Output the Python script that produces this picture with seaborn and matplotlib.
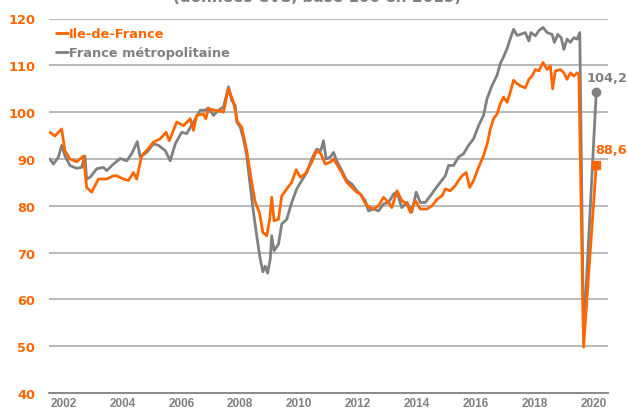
import matplotlib
matplotlib.use("Agg")
import matplotlib.pyplot as plt
import seaborn as sns
import pandas as pd

# ==============================
# DATA (year as decimal)
# ==============================

fr_years = [
    2002.03, 2002.15, 2002.32, 2002.43, 2002.54, 2002.71, 2002.94, 2003.11, 2003.22, 2003.28,
    2003.40, 2003.62, 2003.85, 2003.96, 2004.19, 2004.42, 2004.64, 2004.81, 2005.00, 2005.10,
    2005.32, 2005.55, 2005.72, 2005.95, 2006.12, 2006.29, 2006.51, 2006.68, 2006.91, 2007.14,
    2007.31, 2007.42, 2007.59, 2007.76, 2007.93, 2008.10, 2008.21, 2008.33, 2008.38, 2008.50,
    2008.61, 2008.72, 2008.84, 2008.95, 2009.06, 2009.18, 2009.27, 2009.35, 2009.43, 2009.52,
    2009.57, 2009.65, 2009.80, 2009.91, 2010.08, 2010.25, 2010.42, 2010.59, 2010.76, 2010.93,
    2011.10, 2011.24, 2011.33, 2011.42, 2011.56, 2011.67, 2011.78, 2011.95, 2012.12, 2012.30,
    2012.46, 2012.58, 2012.75, 2012.86, 2013.03, 2013.20, 2013.37, 2013.54, 2013.71, 2013.83,
    2013.99, 2014.17, 2014.33, 2014.48, 2014.62, 2014.79, 2014.96, 2015.13, 2015.30, 2015.47,
    2015.58, 2015.75, 2015.92, 2016.09, 2016.26, 2016.43, 2016.60, 2016.77, 2016.89, 2017.06,
    2017.23, 2017.34, 2017.45, 2017.57, 2017.68, 2017.79, 2017.91, 2018.02, 2018.19, 2018.31,
    2018.38, 2018.53, 2018.65, 2018.79, 2018.93, 2019.10, 2019.18, 2019.29, 2019.41, 2019.50,
    2019.61, 2019.72, 2019.84, 2019.95, 2020.04, 2020.17, 2020.60,
]
fr_values = [
    90.0, 88.9, 90.4, 92.9, 90.7, 88.6, 88.0, 88.2, 90.6, 85.7,
    86.1, 87.9, 88.2, 87.5, 88.9, 90.1, 89.6, 91.1, 93.7, 90.4,
    91.4, 93.2, 92.9, 91.8, 89.6, 93.2, 95.7, 95.4, 97.9, 100.4,
    100.4, 100.9, 99.3, 100.4, 101.1, 105.4, 102.5, 101.4, 97.9, 96.8,
    94.3, 90.7, 84.3, 78.6, 73.6, 68.6, 65.9, 67.1, 65.6, 68.6,
    73.6, 70.4, 71.8, 76.1, 77.1, 80.7, 83.6, 85.4, 87.1, 90.0,
    92.1, 91.8, 93.9, 90.0, 90.4, 91.4, 89.6, 87.5, 85.4, 84.6,
    83.2, 82.5, 81.1, 78.9, 79.3, 78.9, 80.4, 80.7, 82.5, 82.9,
    79.6, 80.7, 78.6, 82.9, 80.7, 80.7, 82.1, 83.6, 85.0, 86.4,
    88.6, 88.6, 90.4, 91.1, 92.9, 94.3, 97.1, 99.3, 102.9, 105.7,
    107.9, 110.4, 111.8, 113.6, 115.7, 117.7, 116.4, 116.6, 117.0, 115.2,
    117.0, 116.3, 117.4, 118.1, 117.0, 116.6, 114.9, 116.6, 115.9, 113.4,
    115.6, 114.9, 115.9, 115.6, 117.0, 51.9, 104.2,
]

idf_years = [
    2002.03, 2002.20, 2002.43, 2002.54, 2002.71, 2002.94, 2003.17, 2003.28, 2003.45, 2003.68,
    2003.96, 2004.19, 2004.30, 2004.53, 2004.70, 2004.87, 2004.98, 2005.15, 2005.32, 2005.55,
    2005.78, 2005.98, 2006.09, 2006.34, 2006.57, 2006.80, 2006.91, 2007.02, 2007.25, 2007.33,
    2007.42, 2007.65, 2007.93, 2008.10, 2008.27, 2008.41, 2008.55, 2008.72, 2008.89, 2009.00,
    2009.15, 2009.27, 2009.40, 2009.50, 2009.57, 2009.65, 2009.80, 2009.91, 2010.08, 2010.25,
    2010.40, 2010.54, 2010.71, 2010.93, 2011.10, 2011.24, 2011.39, 2011.56, 2011.67, 2011.78,
    2011.95, 2012.12, 2012.30, 2012.46, 2012.58, 2012.80, 2013.03, 2013.20, 2013.37, 2013.54,
    2013.65, 2013.83, 2013.99, 2014.17, 2014.28, 2014.45, 2014.62, 2014.85, 2015.02, 2015.19,
    2015.36, 2015.47, 2015.64, 2015.81, 2015.92, 2016.04, 2016.18, 2016.30, 2016.43, 2016.60,
    2016.77, 2016.91, 2017.00, 2017.11, 2017.23, 2017.34, 2017.45, 2017.57, 2017.68, 2017.79,
    2017.91, 2018.02, 2018.19, 2018.31, 2018.42, 2018.53, 2018.65, 2018.79, 2018.93, 2019.04,
    2019.12, 2019.21, 2019.38, 2019.50, 2019.61, 2019.72, 2019.84, 2019.95, 2020.01, 2020.17,
    2020.60,
]
idf_values = [
    95.7, 94.9, 96.4, 91.8, 90.0, 89.4, 90.6, 83.9, 82.9, 85.7,
    85.7, 86.4, 86.4, 85.7, 85.4, 87.1, 85.7, 90.7, 91.8, 93.6,
    94.3, 95.7, 93.9, 97.9, 97.1, 98.6, 96.1, 99.3, 99.6, 98.6,
    100.7, 100.4, 100.0, 105.0, 102.1, 97.9, 96.8, 91.8, 85.0, 81.0,
    78.6, 74.3, 73.6, 77.1, 81.8, 76.8, 77.1, 82.1, 83.6, 85.0,
    87.7, 86.1, 86.8, 89.3, 91.8, 91.1, 88.9, 89.3, 90.0, 88.9,
    87.1, 85.0, 83.9, 82.9, 82.5, 80.0, 79.3, 80.0, 81.8, 80.7,
    79.6, 83.2, 81.1, 80.4, 78.6, 81.1, 79.3, 79.3, 80.0, 81.4,
    82.1, 83.6, 83.2, 84.3, 85.4, 86.4, 87.1, 83.9, 85.4, 88.2,
    90.7, 93.6, 96.4, 98.6, 99.6, 101.8, 103.2, 102.1, 104.3, 106.8,
    106.1, 105.6, 105.2, 107.0, 107.7, 109.1, 108.8, 110.6, 109.1, 109.9,
    105.0, 108.8, 109.1, 108.4, 107.0, 108.4, 107.7, 108.4, 108.0, 49.8,
    88.6,
]

series_labels = ["Ile-de-France", "France métropolitaine"]
last_labels = ["88,6", "104,2"]
year_labels = list(range(2002, 2021, 2))

ORANGE = "#ff6600"
GREY = "#808080"

# ==============================
# PLOT
# ==============================

sns.set_style("white")
plt.rcParams['font.family'] = ['DejaVu Sans']

fig = plt.figure(figsize=(6.28, 4.10), dpi=100)
ax = fig.add_axes([49 / 628, 16 / 410, 559 / 628, 374.5 / 410])

df_fr = pd.DataFrame({'year': fr_years, 'value': fr_values})
df_idf = pd.DataFrame({'year': idf_years, 'value': idf_values})

sns.lineplot(data=df_fr, x='year', y='value', color=GREY, linewidth=2.0,
             label=series_labels[1], ax=ax, zorder=3)
sns.lineplot(data=df_idf, x='year', y='value', color=ORANGE, linewidth=2.0,
             label=series_labels[0], ax=ax, zorder=4)

# end markers + value labels
ax.plot(fr_years[-1], fr_values[-1], 'o', color=GREY, markersize=6, zorder=5)
ax.plot(idf_years[-1], idf_values[-1], 's', color=ORANGE, markersize=6, zorder=6)
ax.text(2020.27, fr_values[-1] + 3.3, last_labels[1], color=GREY,
        fontsize=9.3, fontweight='bold', ha='left', va='center')
ax.text(2020.56, idf_values[-1] + 3.5, last_labels[0], color=ORANGE,
        fontsize=9.3, fontweight='bold', ha='left', va='center')

ax.set_xlim(2002, 2021)
ax.set_ylim(40, 120)

ax.set_yticks(range(40, 121, 10))
ax.tick_params(axis='y', length=0, labelsize=9.3, labelcolor=ORANGE, pad=10)
for lbl in ax.get_yticklabels():
    lbl.set_fontweight('bold')

ax.set_xticks([y + 0.5 for y in year_labels])
ax.set_xticklabels([str(y) for y in year_labels])
ax.set_xticks(range(2002, 2022), minor=True)
ax.tick_params(axis='x', which='major', length=0, labelsize=8.5, labelcolor=GREY, pad=3.2)
ax.tick_params(axis='x', which='minor', length=3.5, width=1, color=GREY, direction='out')
for lbl in ax.get_xticklabels():
    lbl.set_family(['Liberation Sans', 'DejaVu Sans'])
    lbl.set_fontweight('bold')

for v in range(50, 121, 10):
    ax.axhline(v, color='#b3b3b3', linewidth=1.3, zorder=1)

for side in ['top', 'right', 'left']:
    ax.spines[side].set_visible(False)
ax.spines['bottom'].set_color(GREY)
ax.spines['bottom'].set_linewidth(1.3)

ax.set_xlabel("")
ax.set_ylabel("")

handles, labels = ax.get_legend_handles_labels()
order = [labels.index(series_labels[0]), labels.index(series_labels[1])]
leg = ax.legend([handles[i] for i in order], [labels[i] for i in order],
                loc='upper left', bbox_to_anchor=(0.0, 0.995), frameon=False,
                handlelength=0.9, handletextpad=0.1, labelspacing=0.45,
                borderaxespad=0.15, prop={'weight': 'bold', 'size': 9.3})
for txt, col in zip(leg.get_texts(), [ORANGE, GREY]):
    txt.set_color(col)

# title line, mostly cut off at the top of the picture
fig.text(0.505, 1 - 2.5 / 410, "(données CVS, base 100 en 2015)", color=GREY,
         fontsize=11, fontweight='bold', ha='center', va='baseline')

fig.savefig("out.png", dpi=100)
